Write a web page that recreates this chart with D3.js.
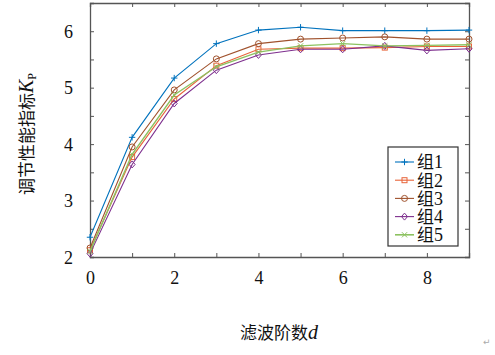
<!DOCTYPE html>
<html>
<head>
<meta charset="utf-8">
<script src="https://cdn.jsdelivr.net/npm/d3@7"></script>
<style>
html,body{margin:0;padding:0;background:#fff;}
svg{display:block;}
</style>
</head>
<body>
<svg id="chart" width="495" height="355"></svg>
<script>
const orders = [0,1,2,3,4,5,6,7,8,9];
const seriesNames = ["组1","组2","组3","组4","组5"];
const group1 = [2.35,4.12,5.17,5.78,6.02,6.07,6.01,6.01,6.01,6.02];
const group2 = [2.12,3.77,4.80,5.39,5.68,5.70,5.70,5.71,5.73,5.73];
const group3 = [2.16,3.95,4.96,5.51,5.78,5.86,5.88,5.90,5.86,5.86];
const group4 = [2.06,3.64,4.72,5.31,5.58,5.68,5.68,5.74,5.66,5.69];
const group5 = [2.10,3.82,4.87,5.37,5.63,5.74,5.78,5.74,5.75,5.76];
const xTickLabels = [0,2,4,6,8];
const yTickLabels = [2,3,4,5,6];
const xTitle = "滤波阶数";
const xTitleVar = "d";
const yTitle = "调节性能指标";
const yTitleVar = "K";
const yTitleSub = "P";

const seriesValues = [group1, group2, group3, group4, group5];
const colors = ["#0072BD","#E8643A","#A0522D","#7E2F8E","#8CC260"];
const markers = ["plus","square","circle","diamond","cross"];

const svg = d3.select("#chart");
const L = 90, R = 469, T = 3, B = 257;
const x = d3.scaleLinear().domain([0,9]).range([L,R]);
const y = d3.scaleLinear().domain([2,6.5]).range([B,T]);
const axisColor = "#555";
const serif = "'Liberation Serif','Times New Roman',serif";
const cjk = "'Noto Sans CJK SC',sans-serif";

// axes (box with inward ticks)
const gB = svg.append("g").attr("transform",`translate(0,${B})`)
  .call(d3.axisBottom(x).tickValues(d3.range(0,10,1)).tickSize(-4).tickPadding(11)
    .tickFormat(d => xTickLabels.includes(d) ? d : ""));
const gT = svg.append("g").attr("transform",`translate(0,${T})`)
  .call(d3.axisTop(x).tickValues(d3.range(0,10,1)).tickSize(-4).tickFormat(""));
const gL = svg.append("g").attr("transform",`translate(${L},0)`)
  .call(d3.axisLeft(y).tickValues(d3.range(2,6.51,0.5)).tickSize(-4).tickPadding(17)
    .tickFormat(d => yTickLabels.includes(d) ? d : ""));
const gR = svg.append("g").attr("transform",`translate(${R},0)`)
  .call(d3.axisRight(y).tickValues(d3.range(2,6.51,0.5)).tickSize(-4).tickFormat(""));
[gB,gT,gL,gR].forEach(g=>{
  g.select(".domain").attr("stroke",axisColor).attr("stroke-width",1.3);
  g.selectAll(".tick line").attr("stroke",axisColor);
  g.selectAll("text").attr("fill","#111").style("font-family",serif).style("font-size","18px");
});
gB.selectAll(".tick text").attr("dy","0.9em");
gL.selectAll(".tick text").attr("dy","0.35em");

function drawMarker(g, type, cx, cy, color){
  const s = 3.2;
  if(type==="plus"){
    g.append("path").attr("d",`M${cx-s},${cy}H${cx+s}M${cx},${cy-s}V${cy+s}`).attr("stroke",color).attr("fill","none").attr("stroke-width",1);
  } else if(type==="square"){
    g.append("rect").attr("x",cx-2.5).attr("y",cy-2.5).attr("width",5).attr("height",5).attr("stroke",color).attr("fill","none").attr("stroke-width",1);
  } else if(type==="circle"){
    g.append("circle").attr("cx",cx).attr("cy",cy).attr("r",3).attr("stroke",color).attr("fill","none").attr("stroke-width",1);
  } else if(type==="diamond"){
    g.append("path").attr("d",`M${cx},${cy-3.5}L${cx+3},${cy}L${cx},${cy+3.5}L${cx-3},${cy}Z`).attr("stroke",color).attr("fill","none").attr("stroke-width",1);
  } else if(type==="cross"){
    const c=2.6;
    g.append("path").attr("d",`M${cx-c},${cy-c}L${cx+c},${cy+c}M${cx-c},${cy+c}L${cx+c},${cy-c}`).attr("stroke",color).attr("fill","none").attr("stroke-width",1);
  }
}

const line = d3.line().x((d,i)=>x(orders[i])).y(d=>y(d));
seriesValues.forEach((vals,si)=>{
  const g = svg.append("g");
  g.append("path").datum(vals).attr("d",line).attr("fill","none")
    .attr("stroke",colors[si]).attr("stroke-width", si===4?1.4:1.1);
  vals.forEach((v,i)=>drawMarker(g, markers[si], x(orders[i]), y(v), colors[si]));
});

// legend
const lg = svg.append("g");
lg.append("rect").attr("x",388).attr("y",147).attr("width",70).attr("height",99)
  .attr("fill","#fff").attr("stroke","#333").attr("stroke-width",1.2);
seriesNames.forEach((name,i)=>{
  const cy = 162 + i*18.2;
  lg.append("line").attr("x1",395).attr("x2",414).attr("y1",cy).attr("y2",cy)
    .attr("stroke",colors[i]).attr("stroke-width", i===4?1.6:1.1);
  drawMarker(lg, markers[i], 404.5, cy, colors[i]);
  const t = lg.append("text").attr("x",417).attr("y",cy).attr("dy","0.36em")
    .style("font-size","18px").attr("fill","#111");
  t.append("tspan").style("font-family",cjk).style("font-size","17px").text(name.slice(0,1));
  t.append("tspan").style("font-family",serif).text(name.slice(1));
});

// x title
const xt = svg.append("text").attr("x",279).attr("y",339).attr("text-anchor","middle")
  .attr("fill","#111").style("font-size","18px");
xt.append("tspan").style("font-family",cjk).style("font-size","17px").text(xTitle);
xt.append("tspan").style("font-family",serif).style("font-style","italic").style("font-size","20px").text(xTitleVar);

// y title
const yt = svg.append("text").attr("transform","translate(33,134) rotate(-90)")
  .attr("text-anchor","middle").attr("fill","#111").style("font-size","18px");
yt.append("tspan").style("font-family",cjk).style("font-size","17px").text(yTitle);
yt.append("tspan").style("font-family",serif).style("font-style","italic").style("font-size","20px").text(yTitleVar);
yt.append("tspan").style("font-family",serif).style("font-size","12px").attr("dy","3").text(yTitleSub);

// paragraph mark
svg.append("text").attr("x",483).attr("y",345).attr("fill","#aaa")
  .style("font-family","'DejaVu Sans'").style("font-size","9px").text("↵");
</script>
</body>
</html>
